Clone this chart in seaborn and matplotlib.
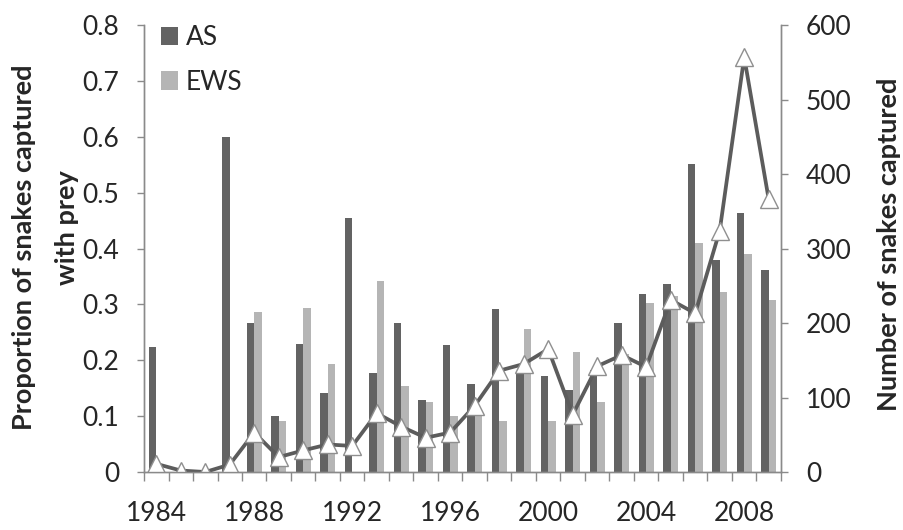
import matplotlib
import matplotlib.pyplot as plt
import numpy as np
import pandas as pd
import seaborn as sns

matplotlib.use("Agg")

nan = np.nan

years = [str(y) for y in range(1984, 2010)]
as_prop = [0.223, nan, nan, 0.600, 0.267, 0.100, 0.230, 0.141, 0.454, 0.177,
           0.266, 0.129, 0.227, 0.157, 0.292, 0.180, 0.172, 0.147, 0.182, 0.266,
           0.318, 0.336, 0.552, 0.379, 0.464, 0.361]
ews_prop = [nan, nan, nan, nan, 0.286, 0.091, 0.293, 0.193, nan, 0.342,
            0.154, 0.125, 0.100, 0.110, 0.091, 0.256, 0.091, 0.215, 0.125, 0.212,
            0.303, 0.315, 0.410, 0.323, 0.391, 0.307]
n_captured = [11, 2, 0, 10, 53, 20, 29, 37, 35, 79,
              61, 46, 53, 89, 136, 145, 165, 77, 142, 157,
              141, 231, 213, 324, 557, 366]
series = ["AS", "EWS"]
left_ticks = [0, 0.1, 0.2, 0.3, 0.4, 0.5, 0.6, 0.7, 0.8]
right_ticks = [0, 100, 200, 300, 400, 500, 600]

sns.set_theme(style="ticks")
plt.rcParams["font.family"] = ["Lato", "DejaVu Sans"]

AXIS_GRAY = "#8a8a8a"
FS = 19
LFS = 19.5

df = pd.DataFrame({
    "year": years * 2,
    "series": ["AS"] * len(years) + ["EWS"] * len(years),
    "prop": as_prop + ews_prop,
})

fig = plt.figure(figsize=(9.04, 5.30), dpi=100)
ax = fig.add_axes([0.1593, 0.1094, 0.7046, 0.8434])

sns.barplot(data=df, x="year", y="prop", hue="series", order=years,
            hue_order=series, palette={"AS": "#636363", "EWS": "#b5b5b5"},
            width=0.6, saturation=1, errorbar=None, linewidth=0, ax=ax)

ax2 = ax.twinx()
pos = np.arange(len(years))
sns.lineplot(x=pos, y=n_captured, ax=ax2, color="#5c5c5c", linewidth=2.7,
             marker="^", markersize=13, markerfacecolor="white",
             markeredgecolor="#8f8f8f", markeredgewidth=1.0)

# x axis: labels every 4 years, ticks between categories
ax.set_xlim(-0.5, len(years) - 0.5)
ax2.set_xlim(-0.5, len(years) - 0.5)
ax.set_xticks(pos[::4])
ax.set_xticklabels(years[::4], fontsize=FS)
ax.set_xticks(np.arange(-0.5, len(years)), minor=True)
ax.tick_params(axis="x", which="major", length=0, pad=21)
ax.tick_params(axis="x", which="minor", length=6.5, width=1, color=AXIS_GRAY,
               direction="out")
ax.set_xlabel("")

ax.set_ylim(0, 0.8)
ax.set_yticks(left_ticks)
ax.set_yticklabels(["0"] + [f"{v:.1f}" for v in left_ticks[1:]], fontsize=FS)
ax.tick_params(axis="y", length=5, width=1, color=AXIS_GRAY, direction="out",
               pad=13)
ax.set_ylabel("")

ax2.set_ylim(0, 600)
ax2.set_yticks(right_ticks)
ax2.set_yticklabels([str(v) for v in right_ticks], fontsize=FS)
ax2.tick_params(axis="y", length=5, width=1, color=AXIS_GRAY, direction="out",
                pad=13)
ax2.set_ylabel("")

for a in (ax, ax2):
    a.spines["top"].set_visible(False)
    for s in ("left", "right", "bottom"):
        a.spines[s].set_color(AXIS_GRAY)
        a.spines[s].set_linewidth(1)
ax.grid(False)
ax2.grid(False)

handles, labels = ax.get_legend_handles_labels()
ax.legend(handles, labels, loc="upper left", bbox_to_anchor=(0.026, 1.0),
          frameon=False, fontsize=FS, handlelength=0.65, handleheight=0.7,
          handletextpad=0.3, labelspacing=0.75, borderpad=0, borderaxespad=0)

fig.text(24 / 904, 1 - 247 / 530, "Proportion of snakes captured",
         rotation=90, ha="center", va="center", fontsize=LFS, fontweight="bold")
fig.text(67 / 904, 1 - 228 / 530, "with prey",
         rotation=90, ha="center", va="center", fontsize=LFS, fontweight="bold")
fig.text(889 / 904, 1 - 244 / 530, "Number of snakes captured",
         rotation=90, ha="center", va="center", fontsize=LFS, fontweight="bold")

fig.savefig("out.png", dpi=100)
plt.close(fig)
